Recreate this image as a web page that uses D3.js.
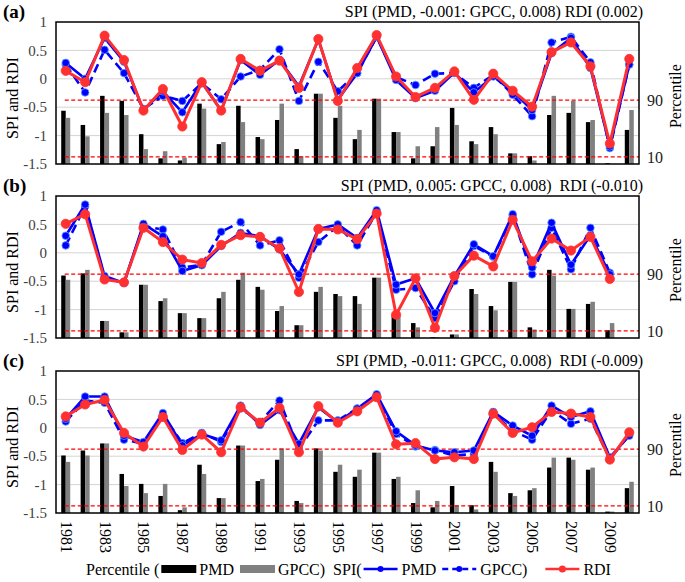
<!DOCTYPE html>
<html><head><meta charset="utf-8">
<script src="https://cdn.jsdelivr.net/npm/d3@7"></script>
<style>
body{margin:0;background:#fff;}
svg{display:block;}
svg text{font-family:"Times New Roman",Times,"Liberation Serif",Tinos,"Noto Serif","DejaVu Serif",serif;}
</style></head>
<body>
<svg id="chart" width="685" height="582"></svg>
<script>
const years = d3.range(1981, 2011);
const yearTicks = d3.range(1981, 2011, 2);
const leftTicks = [1, 0.5, 0, -0.5, -1, -1.5];
const rightTicks = [90, 10];
const gridTicks = [0.5, 0, -0.5, -1];
const panelLetters = ["(a)", "(b)", "(c)"];
const panelTitles = [
  "SPI (PMD, -0.001: GPCC, 0.008) RDI (0.002)",
  "SPI (PMD, 0.005: GPCC, 0.008)  RDI (-0.010)",
  "SPI (PMD, -0.011: GPCC, 0.008)  RDI (-0.009)"
];

// Panel (a)
const aSpiPmd  = [0.28,0.00,0.72,0.30,-0.55,-0.22,-0.59,-0.06,-0.56,0.33,0.07,0.33,-0.13,0.69,-0.37,0.10,0.74,-0.02,-0.34,-0.21,0.11,-0.24,0.04,-0.22,-0.55,0.45,0.72,0.19,-1.19,0.25];
const aSpiGpcc = [0.25,-0.24,0.51,0.10,-0.53,-0.30,-0.39,-0.08,-0.36,0.04,0.16,0.52,-0.39,0.30,-0.22,0.10,0.74,0.03,-0.11,0.09,0.10,-0.16,0.07,-0.28,-0.66,0.64,0.74,0.29,-1.22,0.25];
const aRdi     = [0.14,-0.06,0.76,0.33,-0.56,-0.18,-0.84,-0.06,-0.56,0.35,0.14,0.32,-0.16,0.70,-0.39,0.19,0.77,0.04,-0.32,-0.16,0.13,-0.37,0.09,-0.21,-0.49,0.47,0.64,0.22,-1.14,0.35];
const aPctPmd  = [75,55,96,89,42,8,5,85,28,82,38,62,21,99,65,35,92,45,8,25,79,32,52,15,11,69,72,59,1,48];
const aPctGpcc = [65,39,72,69,21,18,9,78,31,59,35,85,11,99,82,48,92,45,25,52,55,28,42,15,5,96,89,62,0,76];

// Panel (b)
const bSpiPmd  = [0.30,0.85,-0.41,-0.53,0.51,0.29,-0.32,-0.22,0.12,0.35,0.29,0.06,-0.38,0.42,0.50,0.26,0.75,-0.56,-0.45,-1.06,-0.41,0.15,-0.06,0.68,-0.26,0.53,-0.21,0.31,-0.38,null];
const bSpiGpcc = [0.13,0.82,-0.44,-0.53,0.47,0.41,-0.26,-0.21,0.37,0.54,0.13,0.22,-0.44,0.19,0.47,0.13,0.71,-0.65,-0.62,-1.15,-0.50,0.12,-0.07,0.65,-0.38,0.44,-0.29,0.44,-0.35,null];
const bRdi     = [0.51,0.68,-0.47,-0.52,0.44,0.19,-0.12,-0.18,0.14,0.31,0.28,0.08,-0.69,0.42,0.41,0.24,0.69,-1.09,-0.45,-1.32,-0.41,-0.05,-0.24,0.58,-0.15,0.25,0.04,0.28,-0.46,null];
const bPctPmd  = [88,91,24,8,75,52,35,28,56,82,72,38,18,65,62,59,85,32,21,1,5,69,45,79,15,96,41,48,11,null];
const bPctGpcc = [82,96,24,8,75,56,35,28,65,92,68,45,18,72,59,48,85,32,15,1,5,62,39,79,12,88,41,51,21,null];

// Panel (c)
const cSpiPmd  = [0.16,0.55,0.55,-0.14,-0.25,0.26,-0.31,-0.11,-0.22,0.39,0.05,0.31,-0.28,0.36,0.10,0.34,0.59,-0.06,-0.31,-0.40,-0.43,-0.40,0.28,0.04,-0.14,0.39,0.19,0.29,-0.52,-0.14];
const cSpiGpcc = [0.11,0.48,0.44,-0.21,-0.28,0.22,-0.27,-0.09,-0.25,0.34,0.10,0.48,-0.37,0.13,0.13,0.34,0.57,-0.11,-0.33,-0.39,-0.49,-0.46,0.25,-0.05,-0.21,0.31,0.07,0.16,-0.55,-0.12];
const cRdi     = [0.20,0.41,0.49,-0.09,-0.33,0.19,-0.39,-0.12,-0.43,0.36,0.09,0.35,-0.43,0.38,0.09,0.29,0.54,-0.29,-0.27,-0.55,-0.52,-0.55,0.25,-0.09,0.01,0.28,0.25,0.19,-0.56,-0.08];
const cPctPmd  = [81,88,98,55,41,24,4,68,21,95,45,75,17,91,58,51,85,48,14,8,38,11,72,28,32,64,78,61,2,35];
const cPctGpcc = [72,81,98,38,28,41,8,55,21,95,48,91,14,88,68,61,85,51,32,17,11,5,58,24,35,78,75,64,2,44];

const panels = [
  {pmd: aSpiPmd, gpcc: aSpiGpcc, rdi: aRdi, pp: aPctPmd, pg: aPctGpcc},
  {pmd: bSpiPmd, gpcc: bSpiGpcc, rdi: bRdi, pp: bPctPmd, pg: bPctGpcc},
  {pmd: cSpiPmd, gpcc: cSpiGpcc, rdi: cRdi, pp: cPctPmd, pg: cPctGpcc}
];

const BLUE = "#0000ff", RED = "#ff3030", GRAY = "#808080";
const svg = d3.select("#chart");
svg.append("rect").attr("width",685).attr("height",582).attr("fill","#fff");

const L = 56, R = 639, H = 142;
const tops = [22, 196, 371];
const x = d3.scaleBand().domain(years).range([L, R]).padding(0);
const cx = yr => x(yr) + x.bandwidth()/2;

panels.forEach((p, i) => {
  const top = tops[i];
  const y = d3.scaleLinear().domain([-1.5, 1]).range([top + H, top]);
  const yp = d3.scaleLinear().domain([0, 200]).range([top + H, top]);
  const g = svg.append("g");

  g.selectAll(".grid").data(gridTicks).join("line")
    .attr("x1", L).attr("x2", R).attr("y1", d => y(d)).attr("y2", d => y(d))
    .attr("stroke", "#d4d4d4").attr("stroke-width", 1);

  const bw = 4.5;
  g.selectAll(".bp").data(years.map((yr, k) => ({yr, v: p.pp[k]})).filter(d => d.v != null)).join("rect")
    .attr("x", d => cx(d.yr) - bw).attr("width", bw)
    .attr("y", d => yp(d.v)).attr("height", d => yp(0) - yp(d.v)).attr("fill", "#000");
  g.selectAll(".bg").data(years.map((yr, k) => ({yr, v: p.pg[k]})).filter(d => d.v != null)).join("rect")
    .attr("x", d => cx(d.yr)).attr("width", bw)
    .attr("y", d => yp(d.v)).attr("height", d => yp(0) - yp(d.v)).attr("fill", GRAY);

  g.selectAll(".thr").data(rightTicks).join("line")
    .attr("x1", cx(years[0]) - 1).attr("x2", R).attr("y1", d => yp(d)).attr("y2", d => yp(d))
    .attr("stroke", "#ff0000").attr("stroke-width", 1.2).attr("stroke-dasharray", "4,2.5");

  const line = d3.line().defined(d => d.v != null).x(d => cx(d.yr)).y(d => y(d.v));
  const series = [
    {vals: p.gpcc, color: BLUE, dash: "9,5", w: 2.6, r: 3.8, stroke: "#5fa0ff"},
    {vals: p.pmd, color: BLUE, dash: null, w: 2.6, r: 3.8, stroke: "#5fa0ff"},
    {vals: p.rdi, color: RED, dash: null, w: 3, r: 4.6, stroke: RED}
  ];
  series.forEach(s => {
    const data = years.map((yr, k) => ({yr, v: s.vals[k]}));
    g.append("path").datum(data).attr("d", line).attr("fill", "none")
      .attr("stroke", s.color).attr("stroke-width", s.w)
      .attr("stroke-dasharray", s.dash).attr("stroke-linejoin", "round");
    g.selectAll(null).data(data.filter(d => d.v != null)).join("circle")
      .attr("cx", d => cx(d.yr)).attr("cy", d => y(d.v)).attr("r", s.r)
      .attr("fill", s.color).attr("stroke", s.stroke).attr("stroke-width", 0.8);
  });

  g.append("rect").attr("x", L).attr("y", top).attr("width", R - L).attr("height", H)
    .attr("fill", "none").attr("stroke", "#000").attr("stroke-width", 1.5);

  g.selectAll(".lt").data(leftTicks).join("text")
    .attr("x", 47).attr("y", d => y(d)).attr("dy", "0.35em").attr("text-anchor", "end")
    .attr("font-size", 15).attr("fill", "#404040").text(d => d);
  g.selectAll(".rt").data(rightTicks).join("text")
    .attr("x", 647).attr("y", d => yp(d)).attr("dy", "0.35em").attr("text-anchor", "start")
    .attr("font-size", 16).attr("fill", "#202020").text(d => d);

  g.append("text").attr("transform", `translate(18,${top + H/2 + 5}) rotate(-90)`)
    .attr("text-anchor", "middle").attr("font-size", 16).attr("fill", "#000").text("SPI and RDI");
  g.append("text").attr("transform", `translate(681,${yp(90) - 4}) rotate(-90)`)
    .attr("text-anchor", "middle").attr("font-size", 16).attr("fill", "#000").text("Percentile");

  g.append("text").attr("x", 3).attr("y", top - 4).attr("font-size", 19).attr("font-weight", "bold")
    .text(panelLetters[i]);
  g.append("text").attr("x", R + 4).attr("y", top - 5).attr("text-anchor", "end")
    .attr("font-size", 16).style("white-space", "pre").text(panelTitles[i]);
});

const lastTop = tops[2] + H;
svg.selectAll(".yr").data(yearTicks).join("text")
  .attr("transform", d => `translate(${cx(d) - 5},${lastTop + 8}) rotate(90)`)
  .attr("text-anchor", "start").attr("font-size", 16).attr("fill", "#000").text(d => d);

const lg = svg.append("g").attr("font-size", 16);
const ly = 575;
let lx = 86;
function txt(t) {
  const n = lg.append("text").attr("x", lx).attr("y", ly).style("white-space","pre").text(t);
  lx += n.node().getComputedTextLength();
}
function rect(col) {
  lg.append("rect").attr("x", lx + 2).attr("y", ly - 10).attr("width", 35).attr("height", 8).attr("fill", col);
  lx += 40;
}
function lineSym(col, dash, r) {
  lg.append("line").attr("x1", lx + 2).attr("x2", lx + 36).attr("y1", ly - 6).attr("y2", ly - 6)
    .attr("stroke", col).attr("stroke-width", 2.5).attr("stroke-dasharray", dash);
  lg.append("circle").attr("cx", lx + 19).attr("cy", ly - 6).attr("r", r).attr("fill", col);
  lx += 40;
}
txt("Percentile ("); rect("#000"); txt("PMD "); rect(GRAY); txt("GPCC)  ");
txt("SPI("); lineSym(BLUE, null, 3); txt("PMD "); lineSym(BLUE, "6,4", 3); txt("GPCC)    ");
lineSym(RED, null, 3.5); txt("RDI");
</script>
</body></html>
